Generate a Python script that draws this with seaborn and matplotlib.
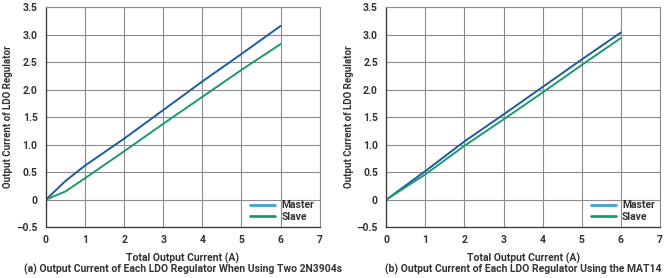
import numpy as np
import pandas as pd
import matplotlib
matplotlib.use("Agg")
import matplotlib.pyplot as plt
import seaborn as sns
from matplotlib.lines import Line2D
from matplotlib.ticker import FuncFormatter

# values
total_current = [0, 0.5, 1, 2, 3, 4, 5, 6]
master_a = [0, 0.34, 0.62, 1.11, 1.63, 2.15, 2.65, 3.16]
slave_a = [0, 0.15, 0.39, 0.88, 1.38, 1.87, 2.36, 2.83]

total_current_b = [0, 1, 2, 3, 4, 5, 6]
master_b = [0, 0.52, 1.06, 1.55, 2.05, 2.55, 3.04]
slave_b = [0, 0.46, 0.98, 1.46, 1.95, 2.45, 2.94]

captions = ["(a) Output Current of Each LDO Regulator When Using Two 2N3904s",
            "(b) Output Current of Each LDO Regulator Using the MAT14"]

sns.set_style("white")
plt.rcParams['font.family'] = ['Liberation Sans Narrow', 'Roboto', 'DejaVu Sans']

line_master = "#1f5b9c"
legend_master = "#3aa6d8"
line_slave = "#1b9a70"
grid_col = "#8c8c8c"

fig = plt.figure(figsize=(6.66, 2.78), dpi=100)
positions = [[0.069, 0.183, 0.411, 0.791], [0.580, 0.183, 0.411, 0.791]]

panels = [(total_current, master_a, slave_a), (total_current_b, master_b, slave_b)]

def fmt(v, pos):
    if abs(v) < 1e-9:
        return "0"
    return ("%.1f" % v).replace("-", "\u2013")

for i, (x, m, s) in enumerate(panels):
    ax = fig.add_axes(positions[i])
    df = pd.DataFrame({"x": x, "Master": m, "Slave": s})
    sns.lineplot(data=df, x="x", y="Master", ax=ax, color=line_master, lw=1.4)
    sns.lineplot(data=df, x="x", y="Slave", ax=ax, color=line_slave, lw=1.4)
    ax.set_xlim(0, 7)
    ax.set_ylim(-0.5, 3.5)
    ax.set_xticks(range(0, 8))
    ax.set_yticks(np.arange(-0.5, 3.51, 0.5))
    ax.yaxis.set_major_formatter(FuncFormatter(fmt))
    ax.grid(True, color=grid_col, lw=0.8)
    for side in ["top", "right"]:
        ax.spines[side].set_color(grid_col)
        ax.spines[side].set_linewidth(0.8)
    for side in ["left", "bottom"]:
        ax.spines[side].set_color("#333333")
        ax.spines[side].set_linewidth(0.9)
    ax.tick_params(axis="both", labelsize=7.5, colors="#333333", length=3, width=0.7, pad=3)
    for lab in ax.get_xticklabels() + ax.get_yticklabels():
        lab.set_fontweight("bold")
    ax.set_xlabel("Total Output Current (A)", fontsize=7.5, fontweight="bold", color="#333333", labelpad=5)
    ax.set_ylabel("Output Current of LDO Regulator", fontsize=7, fontweight="bold", color="#333333", labelpad=2)
    handles = [Line2D([0], [0], color=legend_master, lw=2), Line2D([0], [0], color=line_slave, lw=2)]
    leg = ax.legend(handles, ["Master", "Slave"], loc="lower right", frameon=False,
                    fontsize=7.5, handlelength=2.4, handletextpad=0.6, labelspacing=0.15,
                    borderaxespad=0.1)
    for t in leg.get_texts():
        t.set_fontweight("bold")
        t.set_color("#333333")
    pos = positions[i]
    fig.text(pos[0] + pos[2] / 2, 0.03, captions[i], ha="center", va="center",
             fontsize=7.5, fontweight="bold", color="#333333")

fig.savefig("out.png", dpi=100)
